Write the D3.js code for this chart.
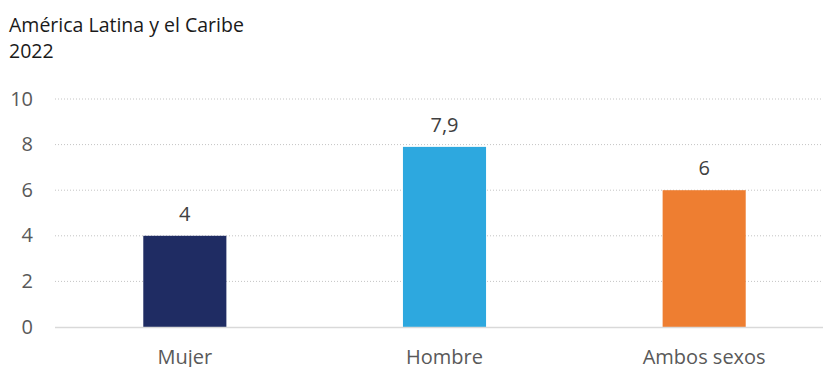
<!DOCTYPE html>
<html>
<head>
<meta charset="utf-8">
<script src="https://cdn.jsdelivr.net/npm/d3@7"></script>
<style>
  html, body { margin: 0; padding: 0; background: #fff; }
  svg { display: block; font-family: "Open Sans", "Noto Sans", sans-serif; }
</style>
</head>
<body>
<svg id="chart" width="823" height="367"></svg>
<script>
const categories = ["Mujer", "Hombre", "Ambos sexos"];
const values = [4, 7.9, 6];
const valueLabels = ["4", "7,9", "6"];
const barColors = ["#1f2c63", "#2da8df", "#ee7e31"];
const yTicks = [0, 2, 4, 6, 8, 10];
const titleLines = ["América Latina y el Caribe", "2022"];

const svg = d3.select("#chart");
const W = 823, H = 367;
const plot = { left: 55, right: 834, top: 99, bottom: 327 };

const x = d3.scaleBand()
  .domain(categories)
  .range([plot.left, plot.right])
  .paddingInner(0.68)
  .paddingOuter(0.34);

const y = d3.scaleLinear().domain([0, 10]).range([plot.bottom, plot.top]);

// title
svg.append("g").selectAll("text")
  .data(titleLines)
  .join("text")
  .attr("x", 9)
  .attr("y", (d, i) => 32 + i * 26)
  .attr("font-size", 19.5)
  .attr("fill", "#1a1a1a")
  .text(d => d);

// gridlines
svg.append("g").selectAll("line")
  .data(yTicks.filter(t => t > 0))
  .join("line")
  .attr("x1", plot.left).attr("x2", W)
  .attr("y1", d => y(d)).attr("y2", d => y(d))
  .attr("stroke", "#c4c4c4")
  .attr("stroke-width", 1)
  .attr("stroke-dasharray", "1,2");

// y-axis tick labels
const yAxis = d3.axisLeft(y).tickValues(yTicks).tickSize(0).tickPadding(0).tickFormat(d3.format("d"));
const ya = svg.append("g").attr("transform", "translate(33,0)").call(yAxis);
ya.select(".domain").remove();
ya.selectAll("text")
  .attr("font-size", 20)
  .attr("font-family", "'Open Sans', 'Noto Sans', sans-serif")
  .attr("fill", "#595959")
  .attr("dy", "0.3em");

// bars
svg.append("g").selectAll("rect")
  .data(categories)
  .join("rect")
  .attr("x", d => x(d))
  .attr("width", x.bandwidth())
  .attr("y", (d, i) => y(values[i]))
  .attr("height", (d, i) => y(0) - y(values[i]))
  .attr("fill", (d, i) => barColors[i]);

// baseline
svg.append("line")
  .attr("x1", plot.left).attr("x2", W)
  .attr("y1", y(0) + 0.5).attr("y2", y(0) + 0.5)
  .attr("stroke", "#d9d9d9")
  .attr("stroke-width", 1.5);

// value labels
svg.append("g").selectAll("text")
  .data(categories)
  .join("text")
  .attr("x", d => x(d) + x.bandwidth() / 2)
  .attr("y", (d, i) => y(values[i]) - 15)
  .attr("text-anchor", "middle")
  .attr("font-size", 20)
  .attr("fill", "#404040")
  .text((d, i) => valueLabels[i]);

// category labels
const xAxis = d3.axisBottom(x).tickSize(0).tickPadding(0);
const xa = svg.append("g").attr("transform", `translate(0,${plot.bottom})`).call(xAxis);
xa.select(".domain").remove();
xa.selectAll("text")
  .attr("font-size", 20)
  .attr("font-family", "'Open Sans', 'Noto Sans', sans-serif")
  .attr("fill", "#595959")
  .attr("dy", 0)
  .attr("y", 37);
</script>
</body>
</html>
